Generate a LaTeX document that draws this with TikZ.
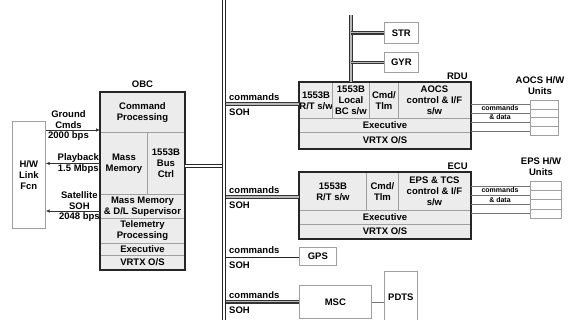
\documentclass[tikz,border=0pt]{standalone}
\usepackage{fontspec}
\setmainfont{Liberation Sans}
\usetikzlibrary{arrows.meta,positioning}

\begin{document}
\begin{tikzpicture}[x=1pt,y=-1pt,
  font=\fontsize{9.5}{11}\selectfont\bfseries,
  cell/.style={draw=gray!75,fill=gray!15,line width=0.9pt,anchor=north west,inner sep=0pt,align=center},
  whitebox/.style={draw=gray!75,fill=white,line width=0.7pt,anchor=north west,inner sep=0pt,align=center},
  unit/.style={draw=gray!75,fill=white,line width=0.6pt,anchor=north west,inner sep=0pt},
  boxframe/.style={draw=black!85,line width=1.3pt},
  bus/.style={draw=black!85,double=white,double distance=1.8pt,line width=0.9pt},
  branch/.style={draw=black!80,double=gray!55,double distance=1.2pt,line width=1.1pt},
  link/.style={black!55,line width=0.7pt},
  flow/.style={draw=black!80,line width=0.7pt},
  rate/.style={align=center,inner sep=0.8pt,text=black},
  cmdl/.style={anchor=south west,inner sep=0pt,xshift=5pt,yshift=3pt},
  sohl/.style={anchor=north west,inner sep=0pt,xshift=5pt,yshift=-5pt},
  small/.style={font=\fontsize{7}{8}\selectfont\bfseries,inner sep=0pt}]
  \useasboundingbox (0,0) rectangle (570,320);

  % link function and OBC
  \node[whitebox,minimum width=33pt,minimum height=107pt] (hwl) at (12,121) {H/W\\Link\\Fcn};
  \node[cell,minimum width=84pt,minimum height=40pt] (cmdp) at (100,92) {Command\\Processing};
  \node[cell,minimum width=47pt,minimum height=62pt] (mm) at (100,132) {Mass\\Memory};
  \node[cell,minimum width=37pt,minimum height=62pt] (bc) at (147,132) {1553B\\Bus\\Ctrl};
  \node[cell,minimum width=84pt,minimum height=24pt] (mmd) at (100,194) {Mass Memory\\\& D/L Supervisor};
  \node[cell,minimum width=84pt,minimum height=25pt] (tlmp) at (100,218) {Telemetry\\Processing};
  \node[cell,minimum width=84pt,minimum height=12pt] (exo) at (100,243) {Executive};
  \node[cell,minimum width=84pt,minimum height=14pt] (vxo) at (100,255) {VRTX O/S};
  \draw[boxframe] (cmdp.north west) rectangle (vxo.south east);
  \node[above=4pt of cmdp,inner sep=0pt] (obcl) {OBC};

  \coordinate (gcy) at (0,130);
  \coordinate (soy) at (0,211);
  \draw[flow,-{Latex[length=4pt,width=3.5pt]}] (hwl.east |- gcy)
    -- node[rate,above,pos=0.42]{Ground\\Cmds} node[rate,below,pos=0.42]{2000 bps} (mm.west |- gcy);
  \draw[flow,{Latex[length=4pt,width=3.5pt]}-] (hwl.east |- mm.west)
    -- node[rate,above,pos=0.6]{Playback} node[rate,below,pos=0.6]{1.5 Mbps} (mm.west);
  \draw[flow,{Latex[length=4pt,width=3.5pt]}-] (hwl.east |- soy)
    -- node[rate,above,pos=0.62]{Satellite\\SOH} node[rate,below,pos=0.62]{2048 bps} (mmd.west |- soy);

  % RDU
  \node[cell,minimum width=33pt,minimum height=36pt] (rdurt) at (299,82) {1553B\\R/T s/w};
  \node[cell,minimum width=37pt,minimum height=36pt] (rdubc) at (332,82) {1553B\\Local\\BC s/w};
  \node[cell,minimum width=29pt,minimum height=36pt] (rductl) at (369,82) {Cmd/\\Tlm};
  \node[cell,minimum width=72pt,minimum height=36pt] (rduaocs) at (398,82) {AOCS\\control \& I/F\\s/w};
  \node[cell,minimum width=171pt,minimum height=14pt] (rduex) at (299,118) {Executive};
  \node[cell,minimum width=171pt,minimum height=16pt] (rduvx) at (299,132) {VRTX O/S};
  \draw[boxframe] (rdurt.north west) rectangle (rduvx.south east);
  \node[above left=2pt and 3pt of rduaocs.north east,inner sep=0pt] (rdul) {RDU};

  \node[whitebox,minimum width=34pt,minimum height=21pt] (str) at (384,22) {STR};
  \node[whitebox,minimum width=34pt,minimum height=20pt] (gyr) at (384,52) {GYR};
  \coordinate (stub) at (0,15);
  \draw[branch] (rdubc.north) -- (rdubc.north |- stub);
  \draw[branch] (rdubc.north |- str.west) -- (str.west);
  \draw[branch] (rdubc.north |- gyr.west) -- (gyr.west);

  \node[align=center,inner sep=0pt] (aocsl) at (540,86) {AOCS H/W\\Units};
  \foreach \i in {1,...,4}
    \node[unit,minimum width=28pt,minimum height=8.75pt] (aocs\i) at (530,{100+8.75*(\i-1)}) {};
  \foreach \i in {1,...,4}
    \draw[link] (rduaocs.east |- aocs\i.west) -- (aocs\i.west);
  \node[small] (aocsc) at (500,108.5) {commands};
  \node[small] (aocsd) at (500,117.5) {\& data};

  % ECU
  \node[cell,minimum width=67pt,minimum height=38pt] (ecurt) at (299,172) {1553B\\R/T s/w};
  \node[cell,minimum width=32pt,minimum height=38pt] (ecuctl) at (366,172) {Cmd/\\Tlm};
  \node[cell,minimum width=72pt,minimum height=38pt] (ecueps) at (398,172) {EPS \& TCS\\control \& I/F\\s/w};
  \node[cell,minimum width=171pt,minimum height=14pt] (ecuex) at (299,210) {Executive};
  \node[cell,minimum width=171pt,minimum height=14pt] (ecuvx) at (299,224) {VRTX O/S};
  \draw[boxframe] (ecurt.north west) rectangle (ecuvx.south east);
  \node[above left=2pt and 3pt of ecueps.north east,inner sep=0pt] (eculb) {ECU};

  \node[align=center,inner sep=0pt] (epsl) at (541,167) {EPS H/W\\Units};
  \foreach \i in {1,...,4}
    \node[unit,minimum width=31pt,minimum height=9.25pt] (eps\i) at (530,{181+9.25*(\i-1)}) {};
  \foreach \i in {1,...,4}
    \draw[link] (ecueps.east |- eps\i.west) -- (eps\i.west);
  \node[small] (epsc) at (500,190.3) {commands};
  \node[small] (epsd) at (500,199.5) {\& data};

  % GPS, MSC, PDTS
  \node[whitebox,minimum width=37pt,minimum height=18pt] (gps) at (299,247) {GPS};
  \node[whitebox,minimum width=72pt,minimum height=33pt] (msc) at (299,285) {MSC};
  \node[whitebox,minimum width=33pt,minimum height=52pt] (pdts) at (384,271) {PDTS};
  \draw[link] (msc.east) -- (pdts.west |- msc.east);

  % bus and branches
  \coordinate (bustop) at (224,0);
  \coordinate (busbot) at (224,320);
  \coordinate (obcy) at (0,166);
  \coordinate (rduy) at (0,104);
  \coordinate (ecuy) at (0,197);
  \draw[branch] (bustop |- rduy) -- (rdurt.west |- rduy);
  \draw[branch] (bustop |- ecuy) -- (ecurt.west |- ecuy);
  \draw[bus] (bustop |- gps.west) -- (gps.west);
  \draw[branch] (bustop |- msc.west) -- (msc.west);
  \draw[bus] (bc.east |- obcy) -- (bustop |- obcy);
  \draw[bus] ([yshift=2pt]bustop) -- ([yshift=-2pt]busbot);
  \foreach \b in {rduy,ecuy,gps.west,msc.west}
    \path (bustop |- \b) node[cmdl]{commands} node[sohl]{SOH};
\end{tikzpicture}
\end{document}
